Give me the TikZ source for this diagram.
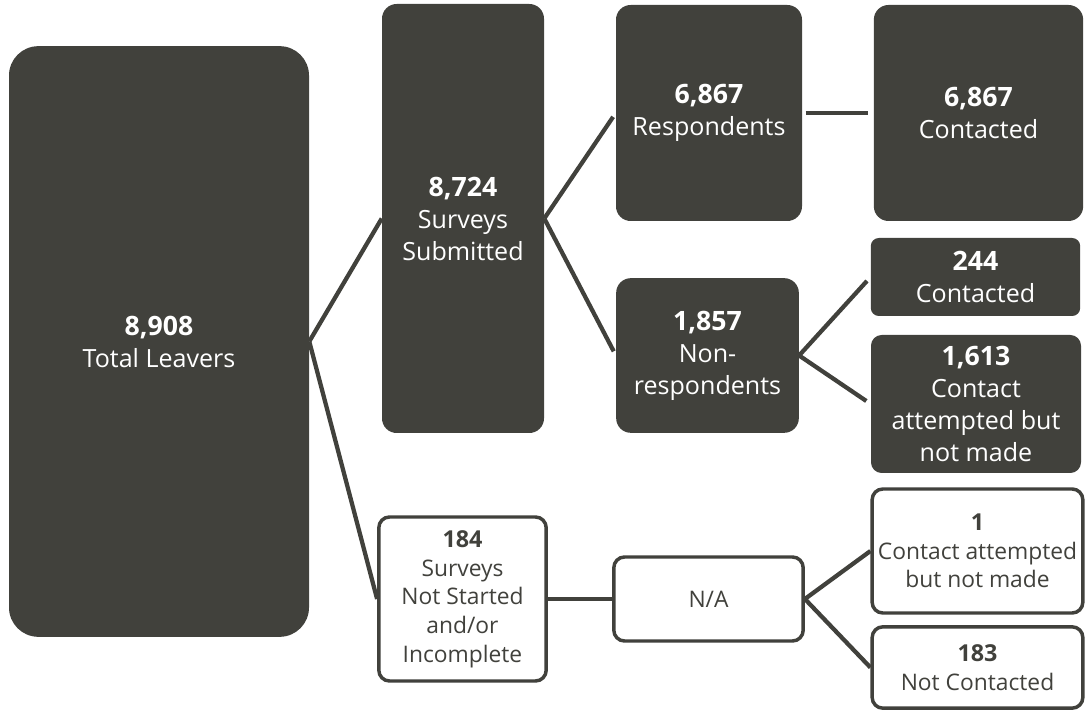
\documentclass[tikz,border=0pt]{standalone}
\usepackage{fontspec}
\setmainfont{Open Sans}
\definecolor{boxgrey}{HTML}{41413C}
\newcommand{\darkcount}[1]{{\fontsize{20}{24}\selectfont\bfseries #1}}
\newcommand{\lightcount}[1]{{\fontsize{17.5}{21.5}\selectfont\bfseries #1}}

\begin{document}
\begin{tikzpicture}[x=0.75pt, y=-0.75pt,
        darkbox/.style={rectangle, rounded corners=11pt, fill=boxgrey, text=white, align=center, inner sep=0pt, font=\fontsize{18.8}{24}\selectfont},
        lightbox/.style={rectangle, rounded corners=8pt, draw=boxgrey, line width=2.6pt, fill=white, text=boxgrey, align=center, inner sep=0pt, font=\fontsize{17.1}{21.5}\selectfont},
        link/.style={draw=boxgrey, line width=3.2pt}]
        \useasboundingbox (0,0) rectangle (1086,712);
        \node[darkbox, rounded corners=22pt, minimum width=225pt, minimum height=443pt] (total) at (159,341.5) {\darkcount{8,908}\\Total Leavers};
        \node[darkbox, minimum width=121.5pt, minimum height=321.75pt] (submitted) at (463,218.5) {\darkcount{8,724}\\Surveys\\Submitted};
        \node[darkbox, minimum width=139.5pt, minimum height=162pt] (resp) at (709,113) {\darkcount{6,867}\\Respondents};
        \node[darkbox, minimum width=137pt, minimum height=116pt] (nonresp) at (707.5,355.5) {\darkcount{1,857}\\Non-\\respondents};
        \node[darkbox, minimum width=157pt, minimum height=162pt] (respcont) at (978.5,113) {\darkcount{6,867}\\Contacted};
        \node[darkbox, rounded corners=6pt, minimum width=157pt, minimum height=58.5pt] (noncont) at (975.5,277) {\darkcount{244}\\Contacted};
        \node[darkbox, rounded corners=8pt, minimum width=157.5pt, minimum height=103.5pt] (nonmade) at (976,404) {\darkcount{1,613}\\Contact\\attempted but\\not made};
        \node[lightbox, minimum width=125.5pt, minimum height=123pt] (notstarted) at (462.5,599) {\lightcount{184}\\Surveys\\Not Started\\and/or\\Incomplete};
        \node[lightbox, minimum width=142pt, minimum height=63pt] (na) at (708.5,599) {N/A};
        \node[lightbox, minimum width=158pt, minimum height=93pt] (namade) at (977.5,551) {\lightcount{1}\\Contact attempted\\but not made};
        \node[lightbox, minimum width=158pt, minimum height=61pt] (nacont) at (977.5,667.5) {\lightcount{183}\\Not Contacted};
        \draw[link] (total.east) -- (submitted.west);
        \draw[link] (total.east) -- (notstarted.west);
        \draw[link, shorten >=3.5pt] (submitted.east) -- (resp.west);
        \draw[link, shorten >=3.5pt] (submitted.east) -- (nonresp.west);
        \draw[link, shorten <=2.5pt, shorten >=4.5pt] (resp.east) -- (respcont.west);
        \draw[link, shorten >=4pt] (nonresp.east) -- (noncont.west);
        \draw[link, shorten >=4pt] (nonresp.east) -- (nonmade.west);
        \draw[link] (notstarted.east) -- (na.west);
        \draw[link] (na.east) -- (namade.west);
        \draw[link] (na.east) -- (nacont.west);
    \end{tikzpicture}
\end{document}
